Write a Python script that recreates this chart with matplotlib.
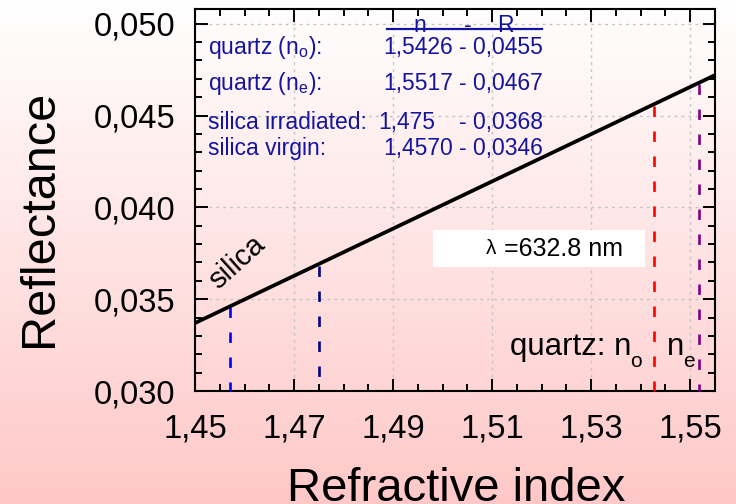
import numpy as np
import matplotlib
matplotlib.use("Agg")
import matplotlib.pyplot as plt
from matplotlib.ticker import MultipleLocator, FuncFormatter
from matplotlib.patches import Rectangle
from matplotlib.lines import Line2D

plt.rcParams['font.family'] = ['Liberation Sans', 'DejaVu Sans']
plt.rcParams['mathtext.fontset'] = 'custom'
plt.rcParams['mathtext.rm'] = 'Liberation Sans'
plt.rcParams['mathtext.it'] = 'Liberation Sans'
plt.rcParams['lines.scale_dashes'] = False

# Reflectance of the silica line at both ends of the plotted range
line_n = [1.45, 1.555]
line_R = [0.0337, 0.0472]

# Materials: refractive index and reflectance at 632.8 nm
materials = ["quartz (n$_o$):", "quartz (n$_e$):", "silica irradiated:", "silica virgin:"]
mat_n = [1.5426, 1.5517, 1.475, 1.4570]
mat_R = [0.0455, 0.0467, 0.0368, 0.0346]
mat_n_text = ["1,5426", "1,5517", "1,475", "1,4570"]
mat_R_text = ["- 0,0455", "- 0,0467", "- 0,0368", "- 0,0346"]
mat_colors = ["#FF0000", "#800080", "#000080", "#0000FF"]

x_ticks = [1.45, 1.47, 1.49, 1.51, 1.53, 1.55]
y_ticks = [0.030, 0.035, 0.040, 0.045, 0.050]

fig = plt.figure(figsize=(7.36, 5.04), dpi=100)

# vertical white-to-pink background
bg = fig.add_axes([0, 0, 1, 1], zorder=-10)
t = np.linspace(0, 1, 256)[:, None]
top = np.array([1.0, 1.0, 1.0])
bottom = np.array([1.0, 200 / 255, 200 / 255])
grad = top[None, None, :] * (1 - t[..., None]) + bottom[None, None, :] * t[..., None]
grad = np.repeat(grad, 2, axis=1)
bg.imshow(grad, aspect='auto', extent=[0, 1, 0, 1], origin='upper')
bg.set_axis_off()

ax = fig.add_axes([195 / 736, 113 / 504, 520 / 736, 382 / 504])
ax.set_facecolor('none')
ax.set_xlim(1.45, 1.555)
ax.set_ylim(0.030, 0.0508)

ax.plot(line_n, line_R, color='black', lw=2.7, solid_capstyle='butt', zorder=5)

# dashed markers drawn from the curve down to the axis
for n, R, c in zip(mat_n, mat_R, mat_colors):
    ax.plot([n, n], [R, 0.030], color=c, lw=1.9, linestyle=(0, (7.5, 10.5)),
            zorder=4, clip_on=False)

ax.xaxis.set_minor_locator(MultipleLocator(0.005))
ax.yaxis.set_minor_locator(MultipleLocator(0.001))
ax.set_xticks(x_ticks)
ax.set_yticks(y_ticks)
ax.xaxis.set_major_formatter(FuncFormatter(lambda v, p: f"{v:.2f}".replace('.', ',')))
ax.yaxis.set_major_formatter(FuncFormatter(lambda v, p: f"{v:.3f}".replace('.', ',')))

ax.tick_params(which='both', direction='in', top=True, right=True, width=1.4, colors='black')
ax.tick_params(which='major', length=9)
ax.tick_params(which='minor', length=5)
ax.tick_params(axis='y', which='major', labelsize=23.5, pad=14)
ax.tick_params(axis='x', which='major', labelsize=23.5, pad=16)
for s in ax.spines.values():
    s.set_linewidth(1.5)

ax.grid(True, which='major', linestyle=(0, (2, 3)), color='#c4c4c4', lw=1.0)
ax.set_axisbelow(True)

ax.set_ylabel("Reflectance", fontsize=35)
ax.yaxis.set_label_coords(-0.256, 0.453)
ax.set_xlabel("Refractive index", fontsize=34, va='baseline')
ax.xaxis.set_label_coords(0.502, -0.288)

# table of values in the upper-left corner
navy = '#1414A0'
tf = ax.transAxes
ax.text(0.433, 0.958, "n", color=navy, fontsize=16.5, ha='center', va='center', transform=tf)
ax.text(0.525, 0.958, "-", color=navy, fontsize=16.5, ha='center', va='center', transform=tf)
ax.text(0.596, 0.958, "R", color=navy, fontsize=16.5, ha='center', va='center', transform=tf)
ax.add_line(Line2D([0.369, 0.667], [0.947, 0.947], color=navy, lw=1.6, transform=tf))

row_y = [0.898, 0.806, 0.704, 0.636]
n_x = [0.3615, 0.3615, 0.352, 0.3615]
for lab, nt, rt, y, nx in zip(materials, mat_n_text, mat_R_text, row_y, n_x):
    ax.text(0.025, y, lab, color=navy, fontsize=16.5, ha='left', va='center', transform=tf)
    ax.text(nx, y, nt, color=navy, fontsize=16.5, ha='left', va='center', transform=tf)
    ax.text(0.669, y, rt, color=navy, fontsize=16.5, ha='right', va='center', transform=tf)

# wavelength box
ax.add_patch(Rectangle((0.458, 0.3246), 0.407, 0.097, facecolor='white',
                       edgecolor='none', transform=tf, zorder=6))
ax.text(0.579, 0.372, "λ", fontsize=15, ha='right', va='center', transform=tf, zorder=7)
ax.text(0.594, 0.372, "=632.8 nm", fontsize=18, ha='left', va='center',
        transform=tf, zorder=7)

ax.text(0.0817, 0.336, "silica", fontsize=21, rotation=42, ha='center', va='center',
        transform=tf, zorder=7)

# quartz index labels next to the dashed markers
qy = (391 - 355) / 382
sy = (391 - 367) / 382
ax.text((510 - 195) / 520, qy, "quartz: n", fontsize=22.5, ha='left', va='baseline',
        transform=tf, zorder=7)
ax.text((630 - 195) / 520, sy, "o", fontsize=15, ha='left', va='baseline',
        transform=tf, zorder=7)
ax.text((667 - 195) / 520, qy, "n", fontsize=22.5, ha='left', va='baseline',
        transform=tf, zorder=7)
ax.text((683 - 195) / 520, sy, "e", fontsize=15, ha='left', va='baseline',
        transform=tf, zorder=7)

fig.savefig("out.png", dpi=100)
